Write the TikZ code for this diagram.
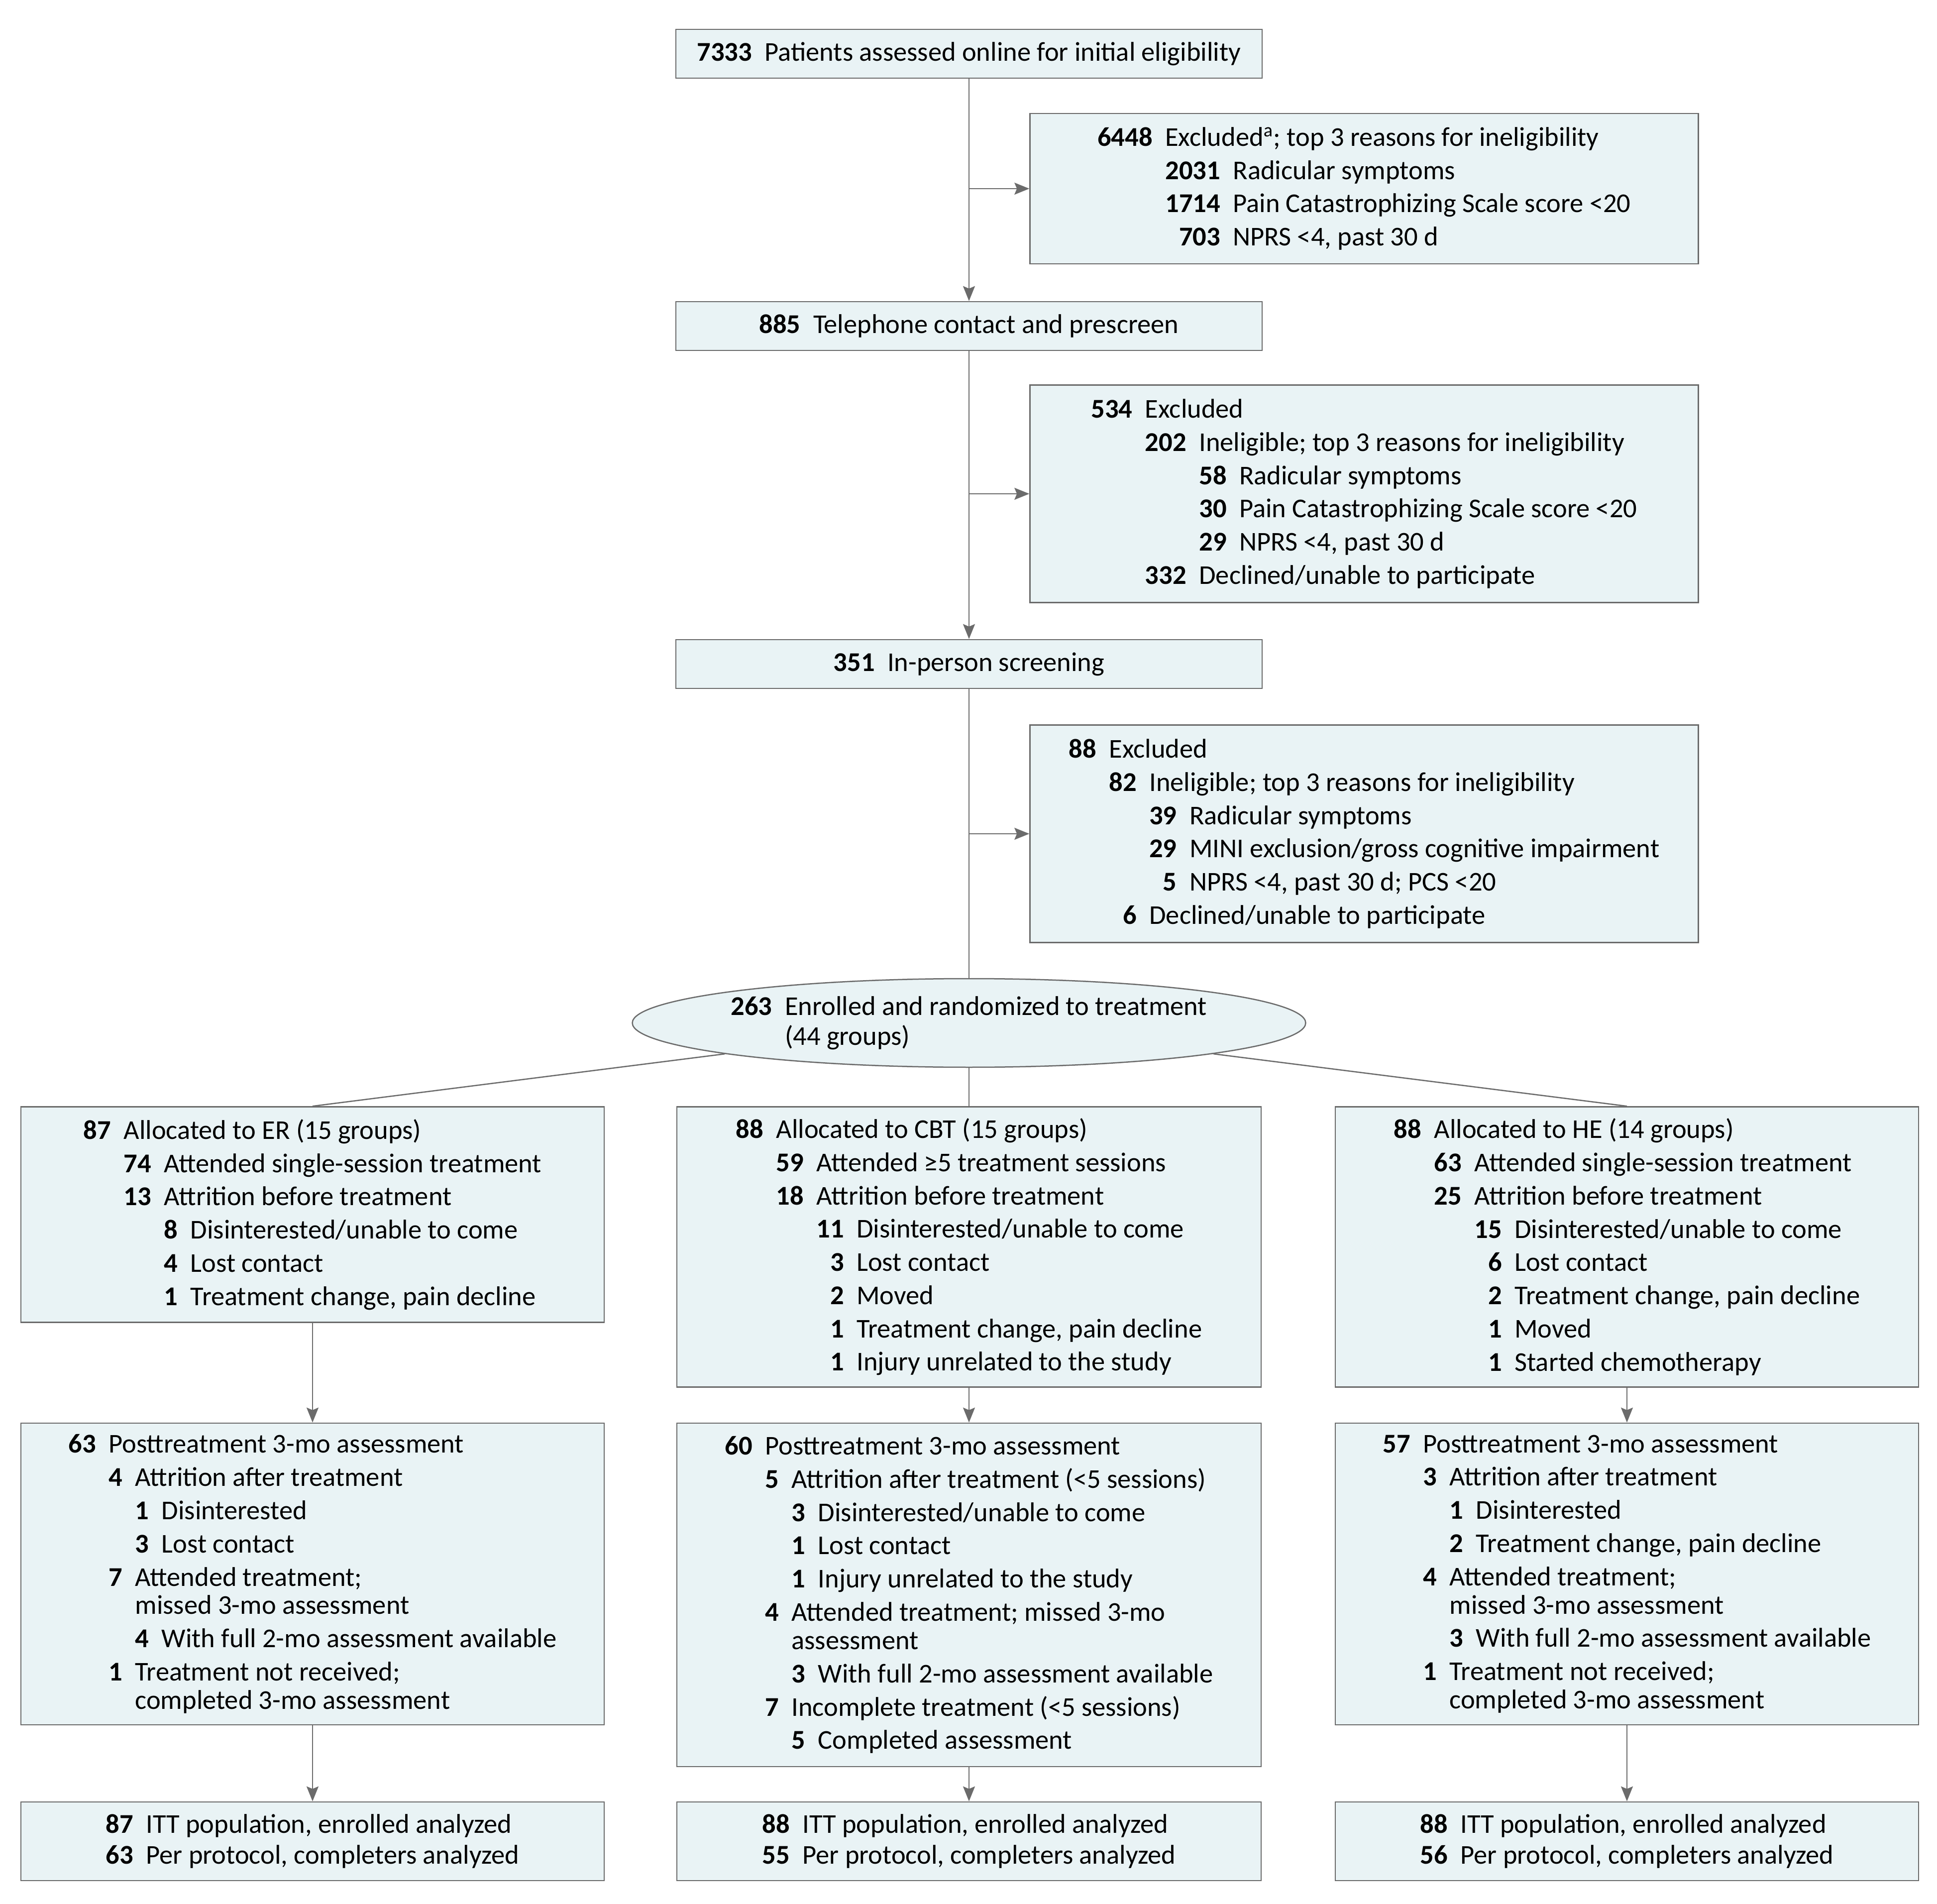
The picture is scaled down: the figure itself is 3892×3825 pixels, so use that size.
\documentclass[tikz,border=0pt]{standalone}
\usepackage{fontspec}
\setmainfont{Carlito}
\usetikzlibrary{arrows.meta,shapes.geometric}

\definecolor{boxfill}{HTML}{E9F3F5}
\definecolor{linegray}{HTML}{6B6B6B}

\newlength\digw
\newcommand{\boxfont}{\fontsize{15.5pt}{19pt}\selectfont\settowidth{\digw}{\bfseries 0}}
\newcommand{\numc}[2]{\makebox[#1\digw][r]{\bfseries #2}\hspace{0.47em}} % number column
\newcommand{\skp}[1]{\hspace*{#1\digw}\hspace*{0.47em}} % indent past a parent number

\tikzset{
  box/.style={draw=linegray, fill=boxfill, line width=0.25mm, align=left, inner sep=0pt, font=\boxfont},
  arr/.style={draw=linegray, line width=0.25mm, -{Stealth[length=3mm,width=2.4mm,inset=0.5mm]}},
  ln/.style={draw=linegray, line width=0.25mm}
}

\begin{document}
\begin{tikzpicture}[x=0.1mm,y=-0.1mm]
\useasboundingbox (0,0) rectangle (3892,3825);

% main column
\node[box, minimum width=117.8mm, minimum height=9.8mm] (top) at (1947,108)
  {\numc{4}{7333}Patients assessed online for initial eligibility};
\node[box, minimum width=117.8mm, minimum height=9.8mm] (tel) at (1947,655)
  {\numc{3}{885}Telephone contact and prescreen};
\node[box, minimum width=117.8mm, minimum height=9.8mm] (scr) at (1947,1334)
  {\numc{3}{351}In-person screening};

% exclusions
\node[box, minimum width=134.3mm, minimum height=30.2mm] (ex1) at (2741,379)
  {\numc{4}{6448}Excluded\textsuperscript{a}; top 3 reasons for ineligibility\\
   \skp{4}\numc{4}{2031}Radicular symptoms\\
   \skp{4}\numc{4}{1714}Pain Catastrophizing Scale score <20\\
   \skp{4}\numc{4}{703}NPRS <4, past 30 d};
\node[box, minimum width=134.3mm, minimum height=43.7mm] (ex2) at (2741,992)
  {\numc{3}{534}Excluded\\
   \skp{3}\numc{3}{202}Ineligible; top 3 reasons for ineligibility\\
   \skp{3}\skp{3}\numc{2}{58}Radicular symptoms\\
   \skp{3}\skp{3}\numc{2}{30}Pain Catastrophizing Scale score <20\\
   \skp{3}\skp{3}\numc{2}{29}NPRS <4, past 30 d\\
   \skp{3}\numc{3}{332}Declined/unable to participate};
\node[box, minimum width=134.3mm, minimum height=43.7mm] (ex3) at (2741,1675)
  {\numc{2}{88}Excluded\\
   \skp{2}\numc{2}{82}Ineligible; top 3 reasons for ineligibility\\
   \skp{2}\skp{2}\numc{2}{39}Radicular symptoms\\
   \skp{2}\skp{2}\numc{2}{29}MINI exclusion/gross cognitive impairment\\
   \skp{2}\skp{2}\numc{2}{5}NPRS <4, past 30 d; PCS <20\\
   \skp{2}\numc{2}{6}Declined/unable to participate};

% randomization
\node[box, ellipse, minimum width=135mm, minimum height=17.8mm] (enr) at (1947,2055)
  {\raisebox{-1mm}{\numc{3}{263}Enrolled and randomized to treatment}\\[-1.8pt]
   \raisebox{-1mm}{\skp{3}(44 groups)}};

% allocation
\node[box, minimum width=117.2mm, minimum height=43.3mm] (er1) at (628,2440)
  {\numc{2}{87}Allocated to ER (15 groups)\\
   \skp{2}\numc{2}{74}Attended single-session treatment\\
   \skp{2}\numc{2}{13}Attrition before treatment\\
   \skp{2}\skp{2}\numc{1}{8}Disinterested/unable to come\\
   \skp{2}\skp{2}\numc{1}{4}Lost contact\\
   \skp{2}\skp{2}\numc{1}{1}Treatment change, pain decline};
\node[box, minimum width=117.4mm, minimum height=56.3mm] (cbt1) at (1947,2505)
  {\numc{2}{88}Allocated to CBT (15 groups)\\
   \skp{2}\numc{2}{59}Attended ≥5 treatment sessions\\
   \skp{2}\numc{2}{18}Attrition before treatment\\
   \skp{2}\skp{2}\numc{2}{11}Disinterested/unable to come\\
   \skp{2}\skp{2}\numc{2}{3}Lost contact\\
   \skp{2}\skp{2}\numc{2}{2}Moved\\
   \skp{2}\skp{2}\numc{2}{1}Treatment change, pain decline\\
   \skp{2}\skp{2}\numc{2}{1}Injury unrelated to the study};
\node[box, minimum width=117.2mm, minimum height=56.3mm] (he1) at (3269,2505)
  {\numc{2}{88}Allocated to HE (14 groups)\\
   \skp{2}\numc{2}{63}Attended single-session treatment\\
   \skp{2}\numc{2}{25}Attrition before treatment\\
   \skp{2}\skp{2}\numc{2}{15}Disinterested/unable to come\\
   \skp{2}\skp{2}\numc{2}{6}Lost contact\\
   \skp{2}\skp{2}\numc{2}{2}Treatment change, pain decline\\
   \skp{2}\skp{2}\numc{2}{1}Moved\\
   \skp{2}\skp{2}\numc{2}{1}Started chemotherapy};

% follow-up
\node[box, minimum width=117.2mm, minimum height=60.6mm] (er2) at (628,3162)
  {\numc{2}{63}Posttreatment 3-mo assessment\\
   \skp{2}\numc{1}{4}Attrition after treatment\\
   \skp{2}\skp{1}\numc{1}{1}Disinterested\\
   \skp{2}\skp{1}\numc{1}{3}Lost contact\\
   \skp{2}\numc{1}{7}Attended treatment;\\[-2.8pt]
   \skp{2}\skp{1}missed 3-mo assessment\\
   \skp{2}\skp{1}\numc{1}{4}With full 2-mo assessment available\\
   \skp{2}\numc{1}{1}Treatment not received;\\[-2.8pt]
   \skp{2}\skp{1}completed 3-mo assessment};
\node[box, minimum width=117.4mm, minimum height=69mm] (cbt2) at (1947,3204)
  {\numc{2}{60}Posttreatment 3-mo assessment\\
   \skp{2}\numc{1}{5}Attrition after treatment (<5 sessions)\\
   \skp{2}\skp{1}\numc{1}{3}Disinterested/unable to come\\
   \skp{2}\skp{1}\numc{1}{1}Lost contact\\
   \skp{2}\skp{1}\numc{1}{1}Injury unrelated to the study\\
   \skp{2}\numc{1}{4}Attended treatment; missed 3-mo\\[-2.8pt]
   \skp{2}\skp{1}assessment\\
   \skp{2}\skp{1}\numc{1}{3}With full 2-mo assessment available\\
   \skp{2}\numc{1}{7}Incomplete treatment (<5 sessions)\\
   \skp{2}\skp{1}\numc{1}{5}Completed assessment};
\node[box, minimum width=117.2mm, minimum height=60.6mm] (he2) at (3269,3162)
  {\numc{2}{57}Posttreatment 3-mo assessment\\
   \skp{2}\numc{1}{3}Attrition after treatment\\
   \skp{2}\skp{1}\numc{1}{1}Disinterested\\
   \skp{2}\skp{1}\numc{1}{2}Treatment change, pain decline\\
   \skp{2}\numc{1}{4}Attended treatment;\\[-2.8pt]
   \skp{2}\skp{1}missed 3-mo assessment\\
   \skp{2}\skp{1}\numc{1}{3}With full 2-mo assessment available\\
   \skp{2}\numc{1}{1}Treatment not received;\\[-2.8pt]
   \skp{2}\skp{1}completed 3-mo assessment};

% analysis
\node[box, minimum width=117.2mm, minimum height=15.8mm] (er3) at (628,3699)
  {\numc{2}{87}ITT population, enrolled analyzed\\[-1.4pt]
   \numc{2}{63}Per protocol, completers analyzed};
\node[box, minimum width=117.4mm, minimum height=15.8mm] (cbt3) at (1947,3699)
  {\numc{2}{88}ITT population, enrolled analyzed\\[-1.4pt]
   \numc{2}{55}Per protocol, completers analyzed};
\node[box, minimum width=117.2mm, minimum height=15.8mm] (he3) at (3269,3699)
  {\numc{2}{88}ITT population, enrolled analyzed\\[-1.4pt]
   \numc{2}{56}Per protocol, completers analyzed};

% connectors
\coordinate (j1) at (top.south |- ex1.west);
\coordinate (j2) at (tel.south |- ex2.west);
\coordinate (j3) at (scr.south |- ex3.west);
\draw[arr] (top) -- (tel);
\draw[arr] (tel) -- (scr);
\draw[ln] (scr) -- (enr);
\foreach \i in {1,2,3} % side exits
  \draw[arr] (j\i) -- (ex\i);
\draw[ln] (enr) -- (er1.north);
\draw[ln] (enr) -- (cbt1);
\draw[ln] (enr) -- (he1.north);
\foreach \a in {er,cbt,he} { % arms
  \draw[arr] (\a1) -- (\a2);
  \draw[arr] (\a2) -- (\a3);
}
\end{tikzpicture}
\end{document}
